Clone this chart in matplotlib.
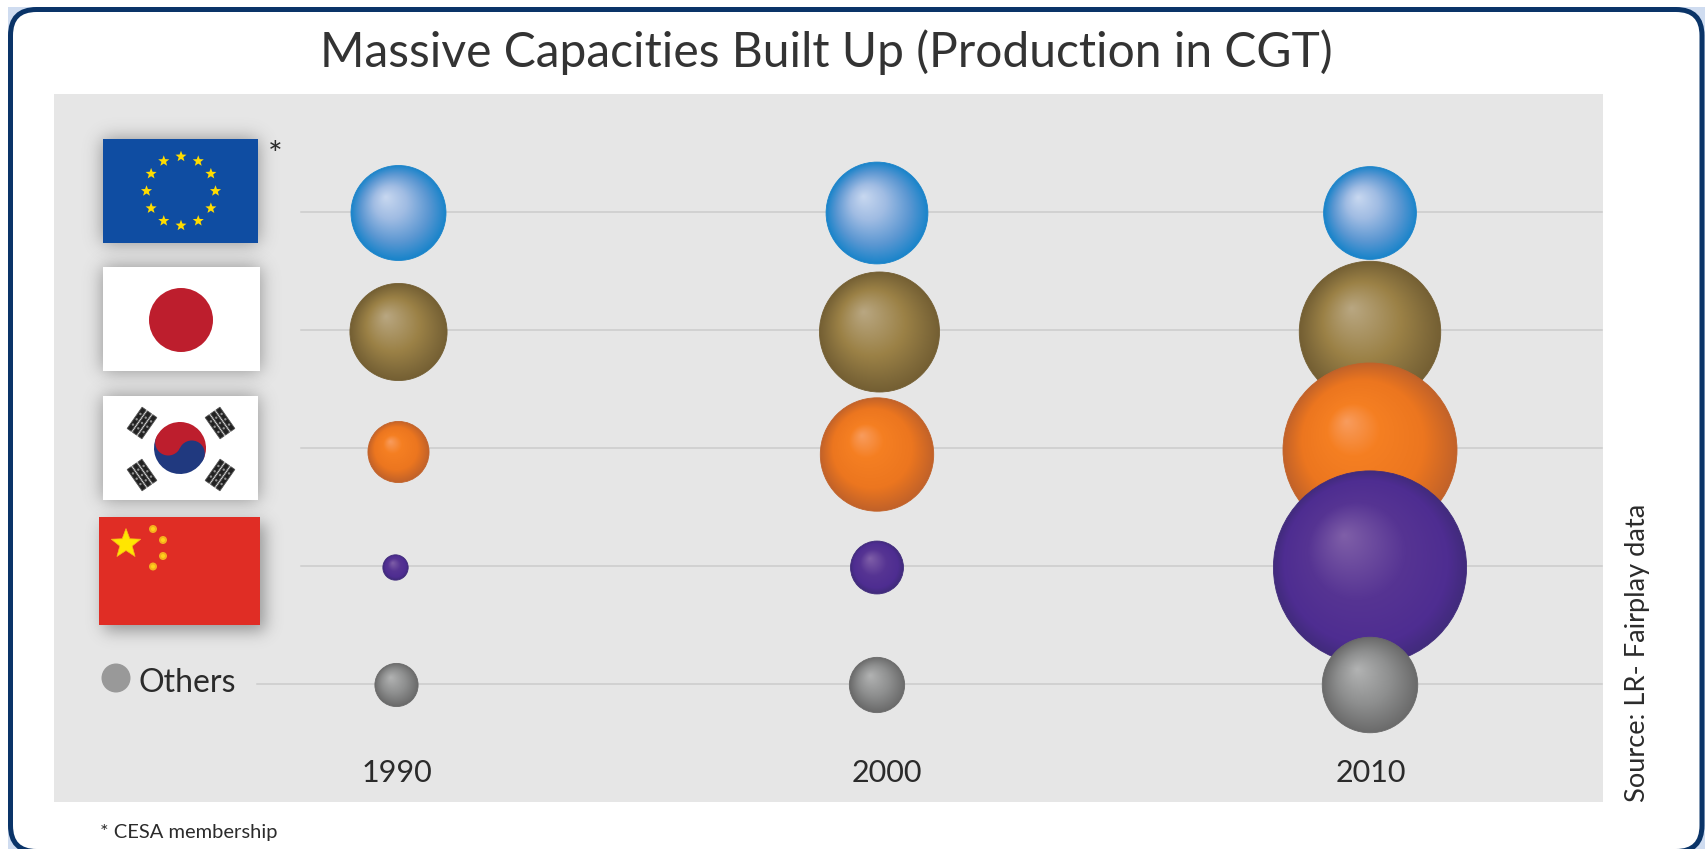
import math
import numpy as np
import matplotlib
matplotlib.use("Agg")
import matplotlib.pyplot as plt
from matplotlib.colors import LinearSegmentedColormap
from matplotlib.patches import Ellipse, FancyBboxPatch, Rectangle, Circle, Wedge, Polygon

# ---------- data ----------
years = [1990, 2000, 2010]
categories = ["EU", "Japan", "Korea", "China", "Others"]
# production, million CGT
eu_cgt = [8.7, 10.0, 8.3]
japan_cgt = [9.1, 13.9, 19.3]
korea_cgt = [3.6, 12.4, 29.2]
china_cgt = [0.62, 2.7, 36.0]
others_cgt = [1.8, 2.95, 8.8]
title_text = "Massive Capacities Built Up (Production in CGT)"
source_text = "Source: LR- Fairplay data"
footnote_text = "* CESA membership"

# ---------- style / layout ----------
W, H = 1705, 849
FONT = "Lato"
INK = "#2b2b2b"
RADIUS_PX_PER_SQRT = 16.1
stops = {
    "EU": [(0, "#c8d8f0"), (.35, "#a0bce3"), (.72, "#5b97d2"), (1, "#1a84ca")],
    "Japan": [(0, "#b9a782"), (.55, "#9b8146"), (.85, "#806a3a"), (1, "#745f33")],
    "Korea": [(0, "#f89c5e"), (.3, "#f57f22"), (.7, "#ec761f"), (1, "#c26229")],
    "China": [(0, "#7f5fa8"), (.5, "#563493"), (.85, "#4e2d91"), (1, "#412b7c")],
    "Others": [(0, "#b2b3b3"), (.55, "#8e8f8f"), (1, "#6a6a6a")],
}
series = {"EU": eu_cgt, "Japan": japan_cgt, "Korea": korea_cgt,
          "China": china_cgt, "Others": others_cgt}
# small hand nudges in pixels: dx per year, dy per category, plus single bubbles
column_nudge = [0.5, -7, 0]
row_nudge = [1, 2, 2, 1.5, 1]
bubble_nudge = {(1990, "China"): (-3, 0), (1990, "Others"): (-2, 0),
                (1990, "Korea"): (0, 2), (2000, "Korea"): (0, 4.5),
                (2000, "Japan"): (2.5, 0)}

plt.rcParams["font.family"] = [FONT, "DejaVu Sans"]
fig = plt.figure(figsize=(W / 100, H / 100), dpi=100, facecolor="white")


def px_axes(zorder):
    a = fig.add_axes([0, 0, 1, 1], zorder=zorder)
    a.set_xlim(0, W)
    a.set_ylim(H, 0)
    a.axis("off")
    a.patch.set_alpha(0)
    return a


# ---------- frame ----------
bg = px_axes(0)
bg.add_patch(Rectangle((8, 7), W - 8, H - 7, fc="#cfdcf0", ec="none"))
RND = 26
bg.add_patch(FancyBboxPatch((10.5 + RND, 9.5 + RND), 1702 - 10.5 - 2 * RND, 851.5 - 9.5 - 2 * RND,
                            boxstyle=f"round,pad={RND},rounding_size={RND}",
                            fc="white", ec="#0a3468", lw=3.6))
bg.text(826, 67, title_text, ha="center", va="baseline", fontsize=34.6,
        color="#333333", fontweight="normal")
bg.text(100, 838, footnote_text, ha="left", va="baseline", fontsize=14.5, color=INK)
bg.text(1638, 802, source_text, ha="center", va="bottom", rotation=90, fontsize=19.6, color=INK)

# ---------- panel with data axes ----------
PL, PR, PT, PB = 54, 1603, 94, 802
ax = fig.add_axes([PL / W, 1 - PB / H, (PR - PL) / W, (PB - PT) / H], zorder=1)
ax.set_facecolor("#e6e6e6")
for s in ax.spines.values():
    s.set_visible(False)
ax.set_xticks([])
ax.set_yticks([])
# x axis in years, y axis in category rows
px_per_year = (1370 - 398) / 20
px_per_row = (684 - 212) / 4
ax.set_xlim(1990 + (PL - 398) / px_per_year, 1990 + (PR - 398) / px_per_year)
ax.set_ylim(0 + (PB - 212) / px_per_row, 0 + (PT - 212) / px_per_row)


def x_to_year(px):
    return 1990 + (px - 398) / px_per_year


for i, c in enumerate(categories):
    start = 257 if c == "Others" else 301
    ax.plot([x_to_year(start), x_to_year(PR - 1)], [i, i], color="#cbcbcb", lw=1.1, zorder=1)


def sphere(cx, cy, r_px, cat, z):
    dx, dy = r_px / px_per_year, r_px / px_per_row
    n = max(64, int(2 * r_px * 2))
    g = np.linspace(-1.02, 1.02, n)
    X, Y = np.meshgrid(g, g)
    fx, fy = -0.27, -0.33
    ux, uy = X - fx, Y - fy
    d = np.hypot(ux, uy) + 1e-9
    ux, uy = ux / d, uy / d
    b = fx * ux + fy * uy
    c_ = fx * fx + fy * fy - 1
    tmax = -b + np.sqrt(b * b - c_)
    t = np.clip(d / tmax, 0, 1)
    cmap = LinearSegmentedColormap.from_list(cat, stops[cat])
    im = ax.imshow(t, cmap=cmap, vmin=0, vmax=1, origin="upper", aspect="auto",
                   extent=(cx - dx * 1.02, cx + dx * 1.02, cy + dy * 1.02, cy - dy * 1.02),
                   zorder=z, interpolation="bilinear")
    e = Ellipse((cx, cy), 2 * dx, 2 * dy, transform=ax.transData, fc="none",
                ec=stops[cat][-1][1], lw=0.6, zorder=z + 0.1)
    ax.add_patch(e)
    im.set_clip_path(e)


xl, yl = ax.get_xlim(), ax.get_ylim()
z = 3
for j, yr in enumerate(years):
    for i, c in enumerate(categories):
        r = RADIUS_PX_PER_SQRT * math.sqrt(series[c][j])
        nx, ny = bubble_nudge.get((yr, c), (0, 0))
        cx = yr + (column_nudge[j] + nx) / px_per_year
        cy = i + (row_nudge[i] + ny) / px_per_row
        sphere(cx, cy, r, c, z)
        z += 1
ax.set_xlim(xl)
ax.set_ylim(yl)

year_label_nudge = [-1, 3, 1]
for j, yr in enumerate(years):
    ax.text(yr + year_label_nudge[j] / px_per_year, (782 - 212) / px_per_row, str(yr),
            ha="center", va="baseline", fontsize=22, color=INK, zorder=50)

# ---------- flags (pictorial row labels) ----------
fl = px_axes(2)
erf = np.vectorize(math.erf)


def shadow(x0, y0, x1, y1, ox=0, oy=0, sigma=9, alpha=.55):
    pad = 45
    xs = np.arange(x0 - pad, x1 + pad) + .5
    ys = np.arange(y0 - pad, y1 + pad) + .5
    k = math.sqrt(2) * sigma
    fx = .5 * (erf((xs - x0 - ox) / k) - erf((xs - x1 - ox) / k))
    fy = .5 * (erf((ys - y0 - oy) / k) - erf((ys - y1 - oy) / k))
    a = np.outer(fy, fx) * alpha
    rgba = np.zeros(a.shape + (4,))
    rgba[..., :3] = 0.28
    rgba[..., 3] = a
    fl.imshow(rgba, extent=(x0 - pad, x1 + pad, y1 + pad, y0 - pad), origin="upper",
              aspect="auto", zorder=1)


def star(cx, cy, R, color, z=5, ec="none", rot=0):
    pts = []
    for k in range(10):
        rad = R if k % 2 == 0 else R * 0.42
        ang = math.radians(-90 + 36 * k + rot)
        pts.append((cx + rad * math.cos(ang), cy + rad * math.sin(ang)))
    fl.add_patch(Polygon(pts, closed=True, fc=color, ec=ec, lw=0.5, zorder=z))


# EU
shadow(103, 139, 258, 243)
fl.add_patch(Rectangle((103, 139), 155, 104, fc="#0f4da2", ec="none", zorder=3))
for k in range(12):
    a = math.radians(30 * k)
    star(181 + 34.5 * math.cos(a), 191 + 34.5 * math.sin(a), 5.8, "#ffdc00")
fl.text(275, 166, "*", ha="center", va="baseline", fontsize=25, color=INK, zorder=6)

# Japan
shadow(103, 267, 260, 371)
fl.add_patch(Rectangle((103, 267), 157, 104, fc="white", ec="none", zorder=3))
fl.add_patch(Circle((181, 320), 32, fc="#bd1e2d", ec="none", zorder=4))

# Korea
shadow(103, 396, 258, 500)
fl.add_patch(Rectangle((103, 396), 155, 104, fc="white", ec="none", zorder=3))
kx, ky, kr = 180, 448, 26
angle = 25
fl.add_patch(Wedge((kx, ky), kr, 180 + angle, 360 + angle, fc="#bd1e2d", ec="none", zorder=4))
fl.add_patch(Wedge((kx, ky), kr, angle, 180 + angle, fc="#20397f", ec="none", zorder=4))
ca, sa = math.cos(math.radians(angle)), math.sin(math.radians(angle))
fl.add_patch(Circle((kx - kr / 2 * ca, ky - kr / 2 * sa), kr / 2, fc="#bd1e2d", ec="none", zorder=5))
fl.add_patch(Circle((kx + kr / 2 * ca, ky + kr / 2 * sa), kr / 2, fc="#20397f", ec="none", zorder=5))
for (tx, ty, rot) in [(142, 423, 35), (220, 423, -35), (142, 475, -35), (220, 475, 35)]:
    t = math.radians(rot)
    R_ = np.array([[math.cos(t), -math.sin(t)], [math.sin(t), math.cos(t)]])
    for b in (-6.5, 0, 6.5):
        w, h = 5, 26
        corners = np.array([[-w / 2, -h / 2], [w / 2, -h / 2], [w / 2, h / 2], [-w / 2, h / 2]]) + [b, 0]
        fl.add_patch(Polygon(corners @ R_.T + [tx, ty], closed=True, fc="#222222", ec="#555555",
                             lw=0.6, zorder=4))
    for b in (-6.5, 0, 6.5):
        for q in (-6.5, 0, 6.5):
            p = np.array([b, q])
            fl.add_patch(Circle(tuple(R_ @ p + [tx, ty]), 1.2, fc="#909090", ec="none", zorder=5))

# China
shadow(99, 517, 260, 625, ox=5, oy=6, sigma=8, alpha=.5)
fl.add_patch(Rectangle((99, 517), 161, 108, fc="#e02d25", ec="none", zorder=3))
star(126, 544, 15.5, "#ffe600", z=5, ec="#f7b41d")
for (sx, sy) in [(153, 529), (163, 540), (163, 556), (153, 566.5)]:
    fl.add_patch(Circle((sx, sy), 4.0, fc="#f5b01e", ec="none", zorder=5))
    fl.add_patch(Circle((sx, sy), 2.0, fc="#ffd21a", ec="none", zorder=6))

# Others key
fl.add_patch(Circle((116, 678), 14.5, fc="#999999", ec="none", zorder=3))
fl.text(139, 692, "Others", ha="left", va="baseline", fontsize=23, color=INK, zorder=4)

fig.savefig("out.png", dpi=100)
